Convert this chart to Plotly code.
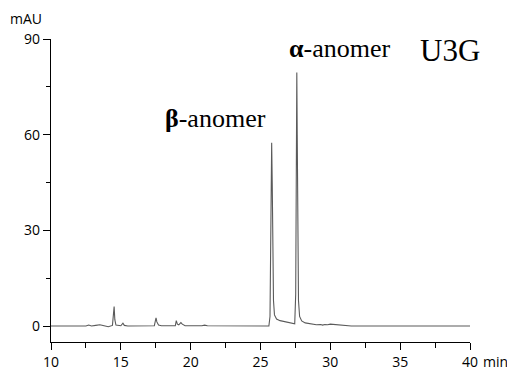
import plotly.graph_objects as go

# retention time (min) and absorbance (mAU)
time_min = [10.0, 12.5, 12.7, 12.9, 13.2, 13.5, 13.8, 14.1, 14.4, 14.47, 14.52, 14.57, 14.65,
            15.0, 15.15, 15.25, 15.5, 17.4, 17.47, 17.52, 17.58, 17.7, 17.9, 18.9, 18.97,
            19.05, 19.15, 19.3, 19.4, 19.6, 20.8, 21.0, 21.2, 25.6, 25.68, 25.73, 25.77,
            25.8, 25.84, 25.88, 25.93, 26.0, 26.15, 26.4, 26.8, 27.2, 27.45, 27.52, 27.57,
            27.6, 27.63, 27.67, 27.72, 27.8, 27.95, 28.2, 28.6, 29.0, 29.3, 29.45, 29.6,
            29.8, 30.0, 30.3, 30.6, 31.0, 31.5, 40.0]
signal_mau = [0.0, 0.0, 0.3, 0.0, 0.2, 0.4, 0.1, -0.2, 0.2, 3.0, 6.1, 2.0, 0.3,
              0.1, 0.9, 0.2, 0.0, 0.1, 1.5, 2.6, 1.3, 0.3, 0.1, 0.1, 1.7,
              0.6, 0.4, 1.1, 0.6, 0.1, 0.1, 0.3, 0.1, 0.0, 3.0, 25.0, 50.0,
              57.5, 45.0, 20.0, 8.0, 3.5, 2.2, 1.7, 1.3, 0.9, 0.7, 10.0, 55.0,
              79.5, 60.0, 25.0, 8.0, 3.0, 1.6, 1.0, 0.6, 0.4, 0.5, 0.3, 0.5,
              0.4, 0.6, 0.5, 0.3, 0.2, 0.0, 0.0]

x_ticks = [10, 15, 20, 25, 30, 35, 40]
x_minor_ticks = [12.5, 17.5, 22.5, 27.5, 32.5, 37.5]
y_ticks = [0, 30, 60, 90]
y_minor_ticks = [15, 45, 75]

peak_labels = ["<b>β</b>-anomer", "<b>α</b>-anomer"]
peak_label_x = [21.75, 30.65]
peak_label_y = [65.0, 87.0]

fig = go.Figure()
fig.add_trace(go.Scatter(x=time_min, y=signal_mau, mode="lines",
                         line=dict(color="#5a5a5a", width=1.1), showlegend=False,
                         hoverinfo="skip"))

tick_font = dict(family="Open Sans", size=14, color="#000000")
fig.update_layout(
    template="none",
    width=507, height=370,
    margin=dict(l=51, r=37, t=39, b=28),
    paper_bgcolor="white", plot_bgcolor="white",
    xaxis=dict(range=[10, 40], tickmode="array", tickvals=x_ticks, showgrid=False,
               zeroline=False, automargin=False,
               showline=True, linecolor="black", linewidth=1.2,
               ticks="outside", ticklen=7, tickwidth=1.2, tickcolor="black",
               tickfont=tick_font,
               minor=dict(ticks="outside", tickmode="array", tickvals=x_minor_ticks,
                          ticklen=5, tickwidth=1, tickcolor="black", showgrid=False)),
    yaxis=dict(range=[-5, 90], tickmode="array", tickvals=y_ticks, showgrid=False,
               zeroline=False, automargin=False,
               showline=True, linecolor="black", linewidth=1.2,
               ticks="outside", ticklen=7, tickwidth=1.2, tickcolor="black",
               tickfont=tick_font,
               minor=dict(ticks="outside", tickmode="array", tickvals=y_minor_ticks,
                          ticklen=4, tickwidth=1, tickcolor="black", showgrid=False)),
)

for txt, xv, yv in zip(peak_labels, peak_label_x, peak_label_y):
    fig.add_annotation(x=xv, y=yv, xref="x", yref="y", text=txt, showarrow=False,
                       font=dict(family="Liberation Serif", size=26, color="#000000"))

fig.add_annotation(x=38.6, y=86.5, xref="x", yref="y", text="U3G", showarrow=False,
                   font=dict(family="Liberation Serif", size=31, color="#000000"))
fig.add_annotation(x=1.0, y=0, xref="paper", yref="paper", text="min",
                   showarrow=False, xanchor="left", yanchor="top", xshift=11, yshift=-8,
                   font=tick_font)
fig.add_annotation(x=0, y=1, xref="paper", yref="paper", text="mAU",
                   showarrow=False, xanchor="right", yanchor="bottom", xshift=-7, yshift=9,
                   font=tick_font)

fig.write_html("out.html")
